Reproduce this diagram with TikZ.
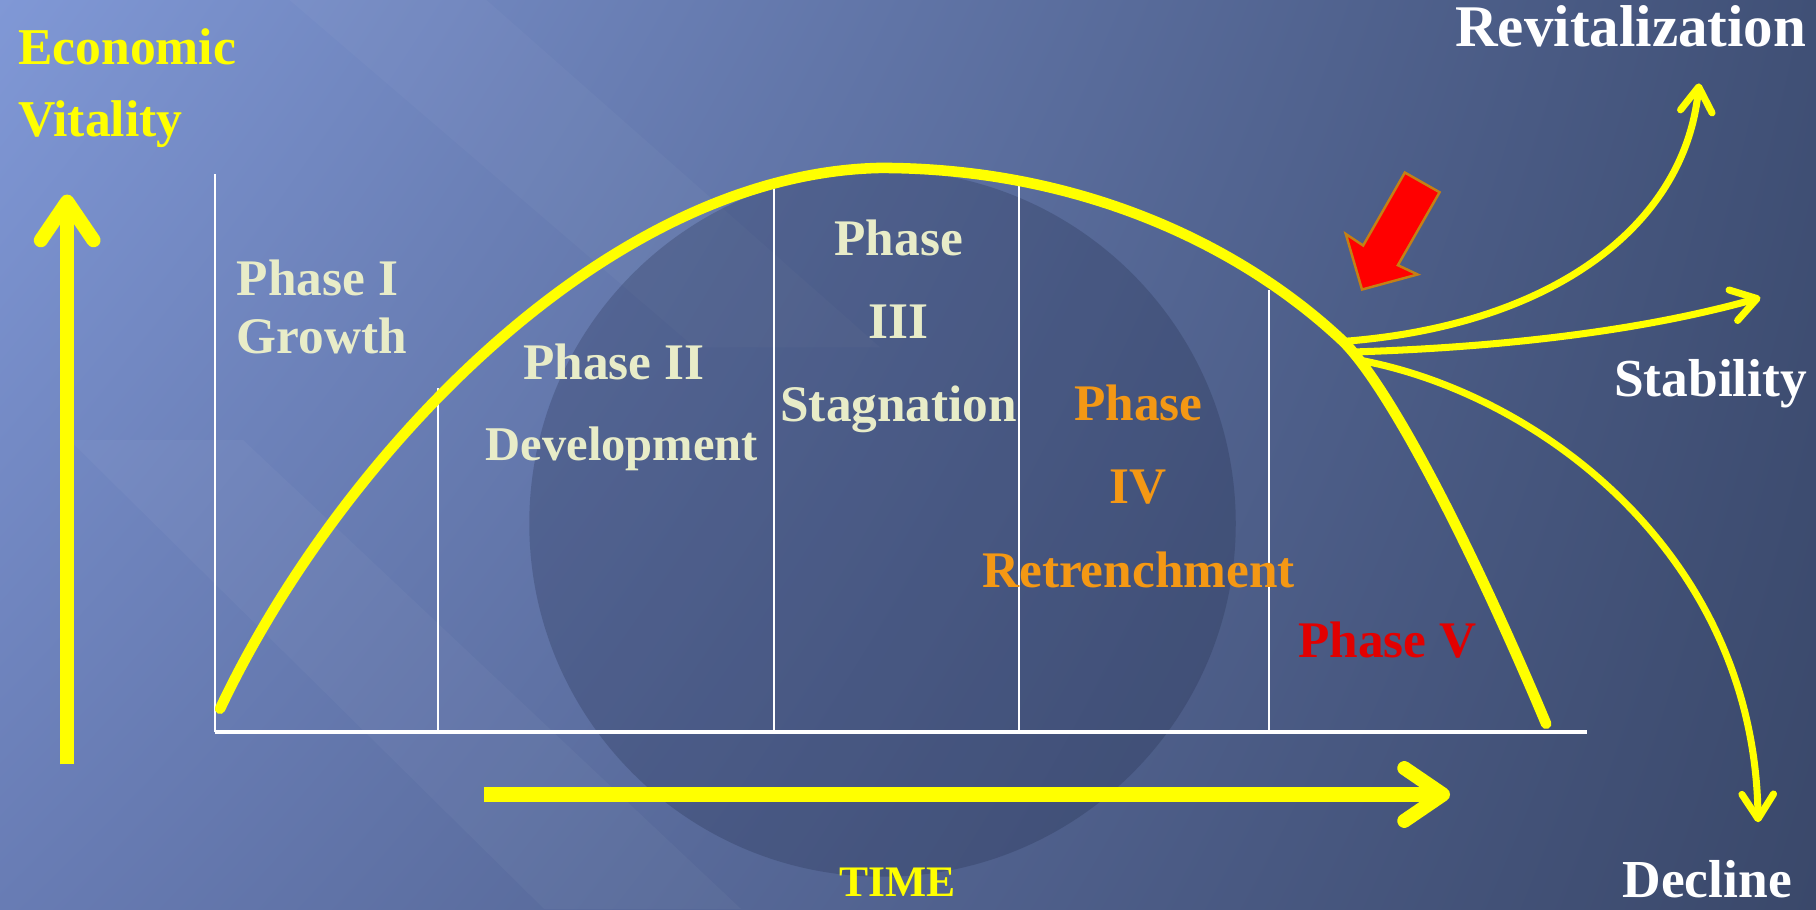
\documentclass[tikz,border=0pt]{standalone}
\usepackage{fontspec}
\setmainfont{Liberation Serif}
\usetikzlibrary{arrows.meta,shadings}

\definecolor{bgtopleft}{RGB}{128,152,214}
\definecolor{bgtopright}{RGB}{64,80,118}
\definecolor{bglowleft}{RGB}{104,124,180}
\definecolor{bglowright}{RGB}{58,72,106}
\definecolor{bgcircle}{RGB}{30,40,70}
\definecolor{vitalyellow}{RGB}{255,255,0}
\definecolor{phasecream}{RGB}{232,236,200}
\definecolor{retrorange}{RGB}{244,152,20}
\definecolor{declred}{RGB}{226,0,0}
\definecolor{pointeredge}{RGB}{196,128,20}

\tikzset{
  phase/.style={font=\bfseries\fontsize{14.6}{17}\selectfont,text=phasecream,anchor=base,inner sep=0pt},
  outcome/.style={font=\bfseries\fontsize{15.2}{18}\selectfont,text=white,anchor=base,inner sep=0pt},
  axislabel/.style={font=\bfseries\fontsize{14.7}{18}\selectfont,text=vitalyellow,anchor=base west,inner sep=0pt},
  divider/.style={draw=white,line width=0.6pt},
  bigarrow/.style={draw=vitalyellow,line width=4pt,-{Straight Barb[length=11pt,width=15pt,round]}},
  branch/.style={draw=vitalyellow,line width=2pt,-{Straight Barb[length=7pt,width=9pt,round]}}
}

\begin{document}
\begin{tikzpicture}[x=0.01158cm,y=-0.01158cm]
  \useasboundingbox (0,0) rectangle (1568,785);

  % background
  \begin{scope}
    \clip (0,0) rectangle (1568,785);
    \shade[upper left=bgtopleft,upper right=bgtopright,lower left=bglowleft,lower right=bglowright]
      (0,0) rectangle (1568,785);
    \fill[white,opacity=0.035] (60,380) -- (210,380) -- (640,785) -- (470,785) -- cycle;
    \fill[white,opacity=0.03] (250,0) -- (420,0) -- (760,300) -- (600,300) -- cycle;
    \fill[bgcircle,opacity=0.25] (762,452) circle (305);
  \end{scope}

  % axes and phase dividers
  \draw[white,line width=1.3pt] (186,632) -- (1370,632);
  \draw[divider] (186,632) -- (186,150);
  \draw[divider] (378,632) -- (378,335);
  \draw[divider] (668,632) -- (668,162);
  \draw[divider] (880,632) -- (880,155);
  \draw[divider] (1096,632) -- (1096,250);

  % life cycle curve
  \coordinate (start) at (190,612);
  \coordinate (peak) at (760,145);
  \coordinate (fork) at (1160,295);
  \coordinate (finish) at (1335,625);
  \draw[vitalyellow,line width=3pt,line cap=round] (start)
    .. controls (290,400) and (520,150) .. (peak)
    .. controls (930,145) and (1070,210) .. (fork)
    .. controls (1200,335) and (1270,470) .. (finish);

  % outcome branches
  \coordinate (forkA) at (1157,295);
  \coordinate (forkB) at (1166,304);
  \coordinate (forkC) at (1174,311);
  \coordinate (revtip) at (1467,72);
  \coordinate (stabtip) at (1520,257);
  \coordinate (decltip) at (1518,710);
  \draw[branch] (forkA) .. controls (1340,282) and (1455,195) .. (revtip);
  \draw[branch] (forkB) .. controls (1300,300) and (1420,285) .. (stabtip);
  \draw[branch] (forkC) .. controls (1330,340) and (1515,480) .. (decltip);

  % axis arrows
  \coordinate (vbot) at (58,660);
  \coordinate (vtop) at (58,168);
  \coordinate (tleft) at (418,686);
  \coordinate (tright) at (1252,686);
  \draw[bigarrow] (vbot) -- (vtop);
  \draw[bigarrow] (tleft) -- (tright);

  % red pointer
  \filldraw[fill=red,draw=pointeredge,line width=0.7pt,line join=miter]
    (1213,149) -- (1243,166) -- (1207,229) -- (1224,237) -- (1176,250)
    -- (1162,202) -- (1177,212) -- cycle;

  % labels
  \node[axislabel] (econ) at (15,56) {Economic};
  \node[axislabel] (vital) at (15,118) {Vitality};
  \node[axislabel,anchor=base,font=\bfseries\fontsize{12.4}{15}\selectfont] (time) at (775,774) {TIME};

  \node[phase,anchor=base west] (ph1) at (204,255) {Phase I};
  \node[phase,anchor=base west] (grow) at (204,305) {Growth};
  \node[phase] (ph2) at (530,328) {Phase II};
  \node[phase,font=\bfseries\fontsize{13.8}{17}\selectfont] (devel) at (537,398) {Development};
  \node[phase] (ph3) at (776,221) {Phase};
  \node[phase] (ph3num) at (776,292) {III};
  \node[phase] (stag) at (776,364) {Stagnation};
  \node[phase,text=retrorange] (ph4) at (983,363) {Phase};
  \node[phase,text=retrorange] (ph4num) at (983,435) {IV};
  \node[phase,text=retrorange] (retr) at (983,507) {Retrenchment};
  \node[phase,text=declred] (ph5) at (1198,568) {Phase V};

  \node[outcome,font=\bfseries\fontsize{16.8}{20}\selectfont] (revit) at (1408,40) {Revitalization};
  \node[outcome] (stab) at (1477,342) {Stability};
  \node[outcome] (decl) at (1474,775) {Decline};
\end{tikzpicture}
\end{document}
